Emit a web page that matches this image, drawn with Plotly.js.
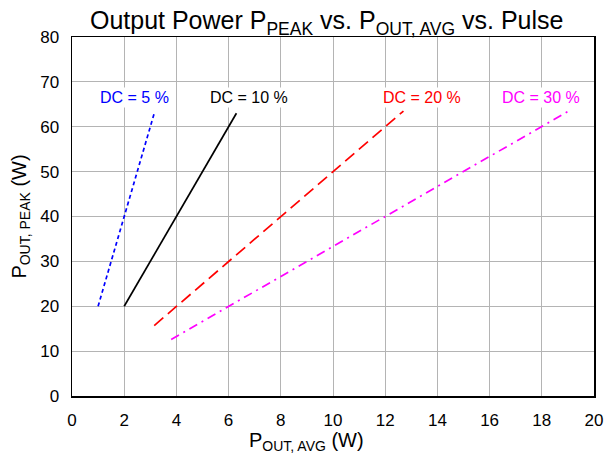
<!DOCTYPE html>
<html>
<head>
<meta charset="utf-8">
<script src="https://cdn.plot.ly/plotly-3.0.1.min.js"></script>
<style>html,body{margin:0;padding:0;background:#fff;}#chart{width:605px;height:457px;}</style>
</head>
<body>
<div id="chart"></div>
<script>
var seriesNames = ["DC = 5 %", "DC = 10 %", "DC = 20 %", "DC = 30 %"];
var pavgDC5 = [1.0, 3.15];
var ppeakDC5 = [20, 63];
var pavgDC10 = [2.0, 6.3];
var ppeakDC10 = [20, 63];
var pavgDC20 = [3.15, 12.7];
var ppeakDC20 = [15.7, 63.5];
var pavgDC30 = [3.8, 19.0];
var ppeakDC30 = [12.6, 63.4];
var labelX = [2.4, 6.8, 13.4, 17.95];
var labelY = [66.5, 66.5, 66.5, 66.5];
var colors = ["#0000ff", "#000000", "#ff0000", "#ff00ff"];
var dashes = ["4px,3px", "solid", "12px,6px", "9px,5px,2px,5px"];

var xs = [pavgDC5, pavgDC10, pavgDC20, pavgDC30];
var ys = [ppeakDC5, ppeakDC10, ppeakDC20, ppeakDC30];
var traces = [];
for (var i = 0; i < 4; i++) {
  traces.push({x: xs[i], y: ys[i], mode: "lines", name: seriesNames[i],
    line: {color: colors[i], dash: dashes[i], width: 1.7}, showlegend: false});
}
var FONT = "Liberation Sans, Arial, sans-serif";
var annotations = [];
for (var j = 0; j < 4; j++) {
  annotations.push({x: labelX[j], y: labelY[j], xref: "x", yref: "y", text: seriesNames[j],
    showarrow: false, font: {color: colors[j], size: 16, family: FONT},
    bgcolor: "#ffffff", borderpad: 1});
}
annotations.push({x: 0.45, y: 0, xref: "paper", yref: "paper", yshift: -60, xanchor: "center", yanchor: "bottom",
  text: "P<sub>OUT, AVG</sub> (W)", showarrow: false, font: {size: 20, family: FONT, color: "#000"}});
var layout = {
  width: 605, height: 457,
  margin: {l: 72, r: 11, t: 37, b: 61},
  paper_bgcolor: "#fff", plot_bgcolor: "#fff",
  font: {family: FONT, color: "#000"},
  title: {text: "Output Power P<sub>PEAK</sub> vs. P<sub>OUT, AVG</sub> vs. Pulse", font: {size: 25, color: "#000"}, x: 0.54, xanchor: "center", y: 0.955, yanchor: "middle"},
  xaxis: {range: [0, 20], dtick: 2, tick0: 0, showgrid: true, gridcolor: "#b4b4b4", gridwidth: 1,
    zeroline: false, showline: true, linecolor: "#000", linewidth: 1.5, mirror: true, ticks: "",
    tickfont: {size: 17}, ticklabelstandoff: 8},
  yaxis: {range: [0, 80], dtick: 10, tick0: 0, showgrid: true, gridcolor: "#b4b4b4", gridwidth: 1,
    zeroline: false, showline: true, linecolor: "#000", linewidth: 1.5, mirror: true, ticks: "",
    tickfont: {size: 17}, ticklabelstandoff: 8,
    title: {text: "P<sub>OUT, PEAK</sub> (W)", font: {size: 20}, standoff: 8}},
  annotations: annotations
};
Plotly.newPlot("chart", traces, layout, {displayModeBar: false, staticPlot: true});
</script>
</body>
</html>
